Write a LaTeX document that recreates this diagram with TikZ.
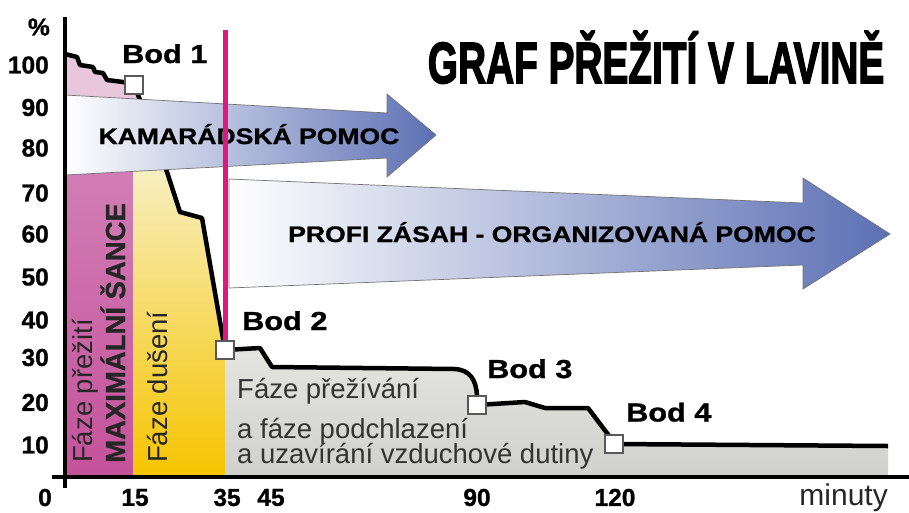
\documentclass[tikz,border=0pt]{standalone}
\usepackage{fontspec}
\setmainfont{Liberation Sans}[BoldFeatures={FakeBold=1}]
\newfontfamily\heavyfont{Liberation Sans}[BoldFeatures={FakeBold=3}]
\usetikzlibrary{calc}
\definecolor{lpink}{HTML}{E8C6DC}
\definecolor{magtop}{HTML}{D27FB6}
\definecolor{magbot}{HTML}{C4529A}
\definecolor{yeltop}{HTML}{F7F0C6}
\definecolor{yelbot}{HTML}{F6C400}
\definecolor{grtop}{HTML}{E4E4E0}
\definecolor{grbot}{HTML}{D0D1CC}
\definecolor{arrblue}{HTML}{5C70B4}
\definecolor{magline}{HTML}{E0177F}
\newcommand{\myxs}[1]{\scalebox{1.18}[1]{#1}}
\tikzset{
  ylab/.style={anchor=east, inner sep=0pt, font=\fontsize{24.5}{24.5}\selectfont\bfseries},
  xlab/.style={anchor=center, inner sep=0pt, font=\fontsize{24.5}{24.5}\selectfont\bfseries},
  bodlab/.style={anchor=base west, inner sep=0pt, font=\fontsize{26}{26}\selectfont\bfseries},
  bodbox/.style={draw=black!65, fill=white, line width=1.3pt, minimum size=18pt, inner sep=0pt},
  bigarrow/.style={draw=black!55, line width=0.7pt, left color=white, right color=arrblue},
  arrtext/.style={anchor=base, inner sep=0pt, font=\fontsize{22.5}{22.5}\selectfont\bfseries},
  phase/.style={anchor=base west, inner sep=0pt, rotate=90, text=black!85, font=\fontsize{27.5}{27.5}\selectfont},
  graytext/.style={anchor=base west, inner sep=0pt, text=black!80, font=\fontsize{27.5}{27.5}\selectfont},
  curve/.style={line width=4.5pt, line join=round, black},
  axis/.style={line width=4.5pt, black}
}
\begin{document}
\begin{tikzpicture}[x=1pt,y=-1pt]
\useasboundingbox (0,0) rectangle (909,512);
\fill[white] (0,0) rectangle (909,512);
% key points
\coordinate (p1) at (134,85);
\coordinate (p2) at (225,350);
\coordinate (p3) at (477,405);
\coordinate (p4) at (614,444);
% fills
\fill[lpink] (65,54) -- (77,57) -- (80,65) -- (93,67) -- (95,72) -- (103,73) -- (107,80) -- (123,82) -- (p1) -- (140,100) -- (140,110) -- (65,110) -- cycle;
\shade[top color=magtop, bottom color=magbot] (65,160) rectangle (133,477);
\shade[top color=yeltop, bottom color=yelbot] (133,160) -- (162,160) -- (180,212) -- (202,218) -- (p2) -- (225,477) -- (133,477) -- cycle;
\shade[top color=grtop, bottom color=grbot] (p2) -- (260,348) -- (272,367) -- (455,369) .. controls (470,370) and (476,380) .. (477,395) -- (p3) -- (525,402) -- (545,408) -- (588,408) -- (610,437) -- (p4) -- (888,446) -- (888,477) -- (225,477) -- cycle;
% survival curve
\draw[curve] (65,54) -- (77,57) -- (80,65) -- (93,67) -- (95,72) -- (103,73) -- (107,80) -- (123,82) -- (p1) -- (140,100) -- (167,172) -- (180,212) -- (202,218) -- (p2) -- (260,348) -- (272,367) -- (455,369) .. controls (470,370) and (476,380) .. (477,395) -- (p3) -- (525,402) -- (545,408) -- (588,408) -- (610,437) -- (p4) -- (888,446);
% arrows
\path[bigarrow] (65,95) -- (387,113) -- (387,94) -- (436,135) -- (387,177) -- (387,158) -- (65,175) -- cycle;
\path[bigarrow] (229,179) -- (803,203) -- (803,178) -- (890,234) -- (803,289) -- (803,265) -- (229,288) -- cycle;
\node[arrtext] (kam) at (249,144) {\myxs{KAMARÁDSKÁ POMOC}};
\node[arrtext] (profi) at (552,242) {\myxs{PROFI ZÁSAH - ORGANIZOVANÁ POMOC}};
% magenta line
\coordinate (mtop) at (225,30);
\draw[magline, line width=5pt] (mtop) -- (p2);
% boxes
\node[bodbox] (b1) at (p1) {};
\node[bodbox] (b2) at (p2) {};
\node[bodbox] (b3) at (p3) {};
\node[bodbox] (b4) at (p4) {};
% bod labels
\node[bodlab] (l1) at (122,63) {\myxs{Bod 1}};
\node[bodlab] (l2) at (242,330) {\myxs{Bod 2}};
\node[bodlab] (l3) at (487,378) {\myxs{Bod 3}};
\node[bodlab] (l4) at (626,421.5) {\myxs{Bod 4}};
% axes
\coordinate (ytop) at (65,17);
\coordinate (ybot) at (65,488);
\coordinate (xl) at (52,477);
\coordinate (xr) at (909,477);
\draw[axis] (ytop) -- (ybot);
\draw[axis] (xl) -- (xr);
% y labels
\node[ylab] (pc) at (50,27) {\%};
\node[ylab] (y100) at (49,65) {100};
\node[ylab] (y90) at (49,107.5) {90};
\node[ylab] (y80) at (49,148) {80};
\node[ylab] (y70) at (49,193) {70};
\node[ylab] (y60) at (49,234) {60};
\node[ylab] (y50) at (49,277) {50};
\node[ylab] (y40) at (49,320) {40};
\node[ylab] (y30) at (49,357.5) {30};
\node[ylab] (y20) at (49,402.5) {20};
\node[ylab] (y10) at (49,445) {10};
% x labels
\node[xlab] (x0) at (45,497.5) {0};
\node[xlab] (x15) at (135,497.5) {15};
\node[xlab] (x35) at (227,497.5) {35};
\node[xlab] (x45) at (271,497.5) {45};
\node[xlab] (x90) at (477,497.5) {90};
\node[xlab] (x120) at (615,497.5) {120};
\node[anchor=base east, inner sep=0pt, font=\fontsize{30}{30}\selectfont, text=black!85] (min) at (888,505) {minuty};
% phase texts
\node[phase] (f1) at (92,463) {Fáze přežití};
\node[phase, font=\fontsize{27.5}{27.5}\selectfont\bfseries] (f2) at (125,463) {MAXIMÁLNÍ ŠANCE};
\node[phase] (f3) at (167,463) {Fáze dušení};
\node[graytext] (g1) at (237,398) {Fáze přežívání};
\node[graytext] (g2) at (237,438) {a fáze podchlazení};
\node[graytext] (g3) at (237,463) {a uzavírání vzduchové dutiny};
% title
\node[anchor=base, inner sep=0pt] (title) at (656,83) {\scalebox{0.97}[1.45]{\fontsize{40}{40}\selectfont\heavyfont\bfseries GRAF PŘEŽITÍ V LAVINĚ}};
\end{tikzpicture}
\end{document}
